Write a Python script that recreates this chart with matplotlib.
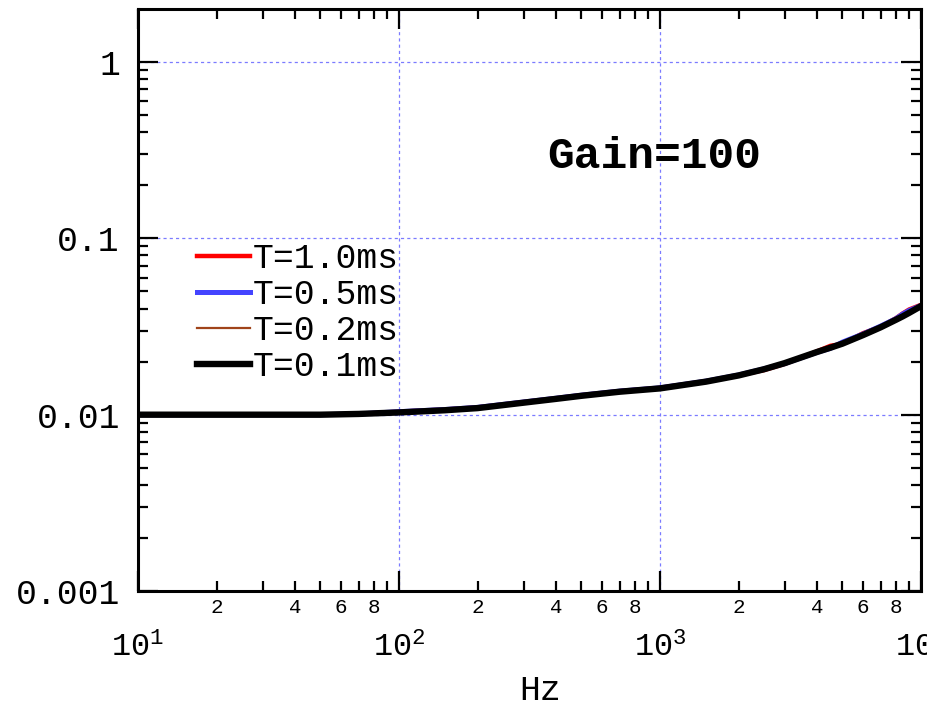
import matplotlib
matplotlib.use("Agg")
import matplotlib.pyplot as plt
from matplotlib.ticker import FixedLocator, FixedFormatter, NullFormatter

plt.rcParams['font.family'] = ['Liberation Mono', 'DejaVu Sans Mono']
plt.rcParams['mathtext.fontset'] = 'custom'
plt.rcParams['mathtext.rm'] = 'Liberation Mono'
plt.rcParams['mathtext.it'] = 'Liberation Mono'

# Frequency response for several sampling periods
freq = [10, 20, 50, 70, 100, 150, 200, 300, 400, 500, 700, 1000, 1500, 2000,
        2500, 3000, 4000, 4500, 5000, 6000, 7000, 8000, 8500, 9000, 10000]
t_1_0ms = [0.0100, 0.0100, 0.0100, 0.0101, 0.0104, 0.0107, 0.0110, 0.0118,
           0.0124, 0.0129, 0.0136, 0.0142, 0.0155, 0.0167, 0.0179, 0.0194,
           0.0229, 0.0246, 0.0252, 0.0290, 0.0315, 0.0352, 0.0375, 0.0395,
           0.0420]
t_0_5ms = [0.0100, 0.0100, 0.0100, 0.0101, 0.0104, 0.0107, 0.0110, 0.0118,
           0.0124, 0.0129, 0.0136, 0.0142, 0.0155, 0.0168, 0.0182, 0.0195,
           0.0226, 0.0238, 0.0258, 0.0287, 0.0318, 0.0350, 0.0372, 0.0390,
           0.0416]
t_0_2ms = [0.0100, 0.0100, 0.0100, 0.0101, 0.0103, 0.0106, 0.0109, 0.0117,
           0.0123, 0.0128, 0.0135, 0.0141, 0.0154, 0.0167, 0.0181, 0.0196,
           0.0227, 0.0240, 0.0253, 0.0283, 0.0313, 0.0345, 0.0361, 0.0378,
           0.0413]
t_0_1ms = [0.0100, 0.0100, 0.0100, 0.0101, 0.0103, 0.0106, 0.0109, 0.0117,
           0.0123, 0.0128, 0.0135, 0.0141, 0.0154, 0.0167, 0.0181, 0.0196,
           0.0227, 0.0240, 0.0253, 0.0283, 0.0313, 0.0345, 0.0361, 0.0378,
           0.0413]

series_labels = ['T=1.0ms', 'T=0.5ms', 'T=0.2ms', 'T=0.1ms']
y_ticks = [0.001, 0.01, 0.1, 1]
y_tick_labels = ['0.001', '0.01', '0.1', '1']
x_major = [10, 100, 1000, 10000]
x_major_labels = [r'$\mathregular{10^{1}}$', r'$\mathregular{10^{2}}$',
                  r'$\mathregular{10^{3}}$', r'$\mathregular{10^{4}}$']

fig = plt.figure(figsize=(9.28, 7.05), dpi=100)
ax = fig.add_axes([0.1487, 0.1617, 0.8438, 0.8255])
ax.set_xscale('log')
ax.set_yscale('log')
ax.set_xlim(10, 10000)
ax.set_ylim(0.001, 2)

ax.plot(freq, t_1_0ms, color='#ff0000', lw=3.2, label=series_labels[0])
ax.plot(freq, t_0_5ms, color='#4444ff', lw=3.6, label=series_labels[1])
ax.plot(freq, t_0_2ms, color='#a0441a', lw=1.6, label=series_labels[2])
ax.plot(freq, t_0_1ms, color='#000000', lw=4.6, label=series_labels[3])

# grid at decades
for xv in x_major[1:-1]:
    ax.axvline(xv, color='#7b7bff', lw=0.9, ls=(0, (2.5, 2.5)), zorder=0)
for yv in y_ticks[1:]:
    ax.axhline(yv, color='#7b7bff', lw=0.9, ls=(0, (2.5, 2.5)), zorder=0)

# ticks
ax.xaxis.set_major_locator(FixedLocator(x_major))
ax.xaxis.set_major_formatter(FixedFormatter(x_major_labels))
x_minor = [m * d for d in (10, 100, 1000) for m in range(2, 10)]
ax.xaxis.set_minor_locator(FixedLocator(x_minor))
minor_lbls = [str(m) if m in (2, 4, 6, 8) else '' for d in (10, 100, 1000) for m in range(2, 10)]
ax.xaxis.set_minor_formatter(FixedFormatter(minor_lbls))

ax.yaxis.set_major_locator(FixedLocator(y_ticks))
ax.yaxis.set_major_formatter(FixedFormatter(y_tick_labels))
y_minor = [m * d for d in (0.001, 0.01, 0.1, 1) for m in range(2, 10) if m * d < 2]
ax.yaxis.set_minor_locator(FixedLocator(y_minor))
ax.yaxis.set_minor_formatter(NullFormatter())

ax.tick_params(which='both', direction='in', top=True, right=True, width=1.6, color='black')
ax.tick_params(which='major', length=14.5)
ax.tick_params(which='minor', length=7.5)
ax.tick_params(axis='y', which='major', labelsize=25, pad=13)
ax.tick_params(axis='x', which='major', labelsize=23, pad=30)
ax.tick_params(axis='x', which='minor', labelsize=15, pad=5)

for sp in ax.spines.values():
    sp.set_linewidth(2.2)

ax.text(0.659, 0.746, 'Gain=100', transform=ax.transAxes, ha='center', va='center',
        fontsize=32, fontweight='bold')

fig.text(540 / 928, 1 - 690 / 705, 'Hz', ha='center', va='center', fontsize=25)

leg = ax.legend(loc='upper left', bbox_to_anchor=(0.0575, 0.624), frameon=False,
                fontsize=25, handlelength=1.52, handletextpad=0.1,
                labelspacing=0.09, borderaxespad=0)

fig.savefig('out.png', dpi=100)
